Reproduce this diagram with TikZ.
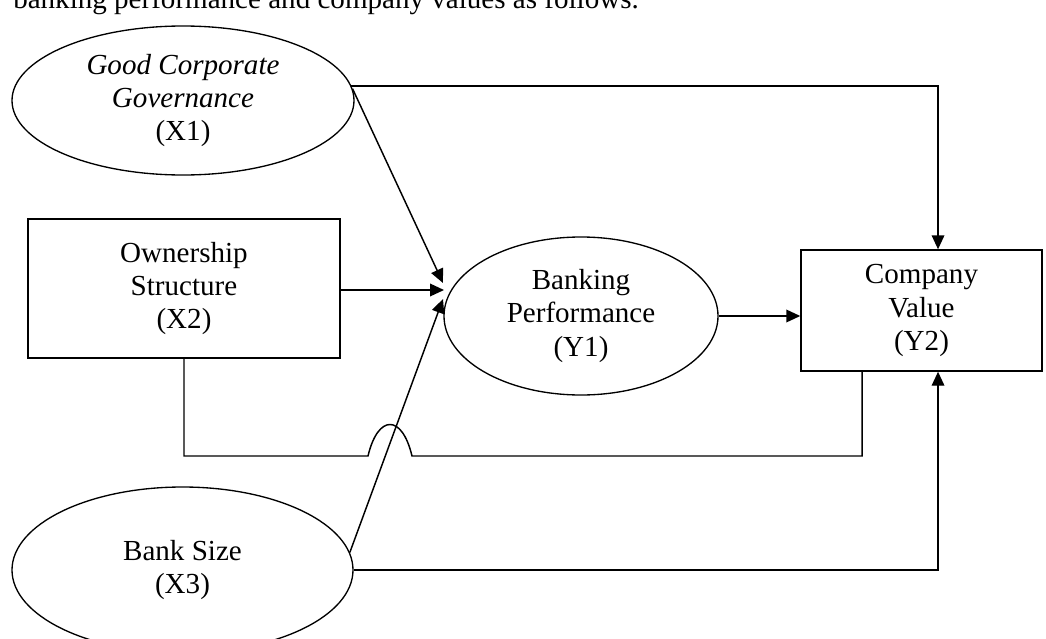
\documentclass[tikz,border=0pt]{standalone}
\usepackage{fontspec}
\setmainfont{Liberation Serif}
\usetikzlibrary{arrows.meta,shapes.geometric}
\tikzset{
  txt/.style={font=\fontsize{21.8}{25.1}\selectfont, align=center, inner sep=0pt},
  ell/.style={txt, draw, line width=1pt, ellipse},
  boxnode/.style={txt, draw, line width=1.1pt, rectangle},
  conn/.style={line width=1.1pt},
  arr/.style={conn, -{Triangle[length=10.5pt,width=9.5pt]}}
}
\begin{document}
\begin{tikzpicture}[x=0.75pt,y=-0.75pt]
\useasboundingbox (0,0) rectangle (1046,639);
\clip (0,0) rectangle (1046,639);
\node[txt, anchor=base west] (intro) at (13,8) {banking performance and company values as follows.};
\node[ell, minimum width=256.5pt, minimum height=111.75pt] (X1) at (183,100.5) {\textit{Good Corporate}\\\textit{Governance}\\(X1)};
\node[boxnode, minimum width=234pt, minimum height=104.25pt] (X2) at (184,288.5) {Ownership\\Structure\\(X2)};
\node[ell, minimum width=205.5pt, minimum height=118.5pt] (Y1) at (581,316) {Banking\\Performance\\(Y1)};
\node[boxnode, minimum width=180.75pt, minimum height=90.75pt] (Y2) at (921.5,310.5) {Company\\Value\\(Y2)};
\node[ell, minimum width=255.75pt, minimum height=124.5pt] (X3) at (182.5,570) {Bank Size\\(X3)};
\coordinate (t2) at (443,283);
\coordinate (t3) at (444,290);
\coordinate (t4) at (443,299);
\coordinate (b1) at (368,456);
\coordinate (b2) at (412,456);
\draw[arr] (X1.5) -| ([xshift=12.4pt]Y2.north);
\draw[arr] (X1.4) -- (t2);
\draw[arr] (X2.east |- t3) -- (t3);
\draw[arr] (X3.6) -- (t4);
\draw[arr] (Y1.east) -- (Y1.east -| Y2.west);
\draw[conn] (X2.south) |- (b1) .. controls (378,414) and (402,414) .. (b2) -| ([xshift=-44.6pt]Y2.south);
\draw[arr] (X3.east) -| ([xshift=12.4pt]Y2.south);
\end{tikzpicture}
\end{document}
